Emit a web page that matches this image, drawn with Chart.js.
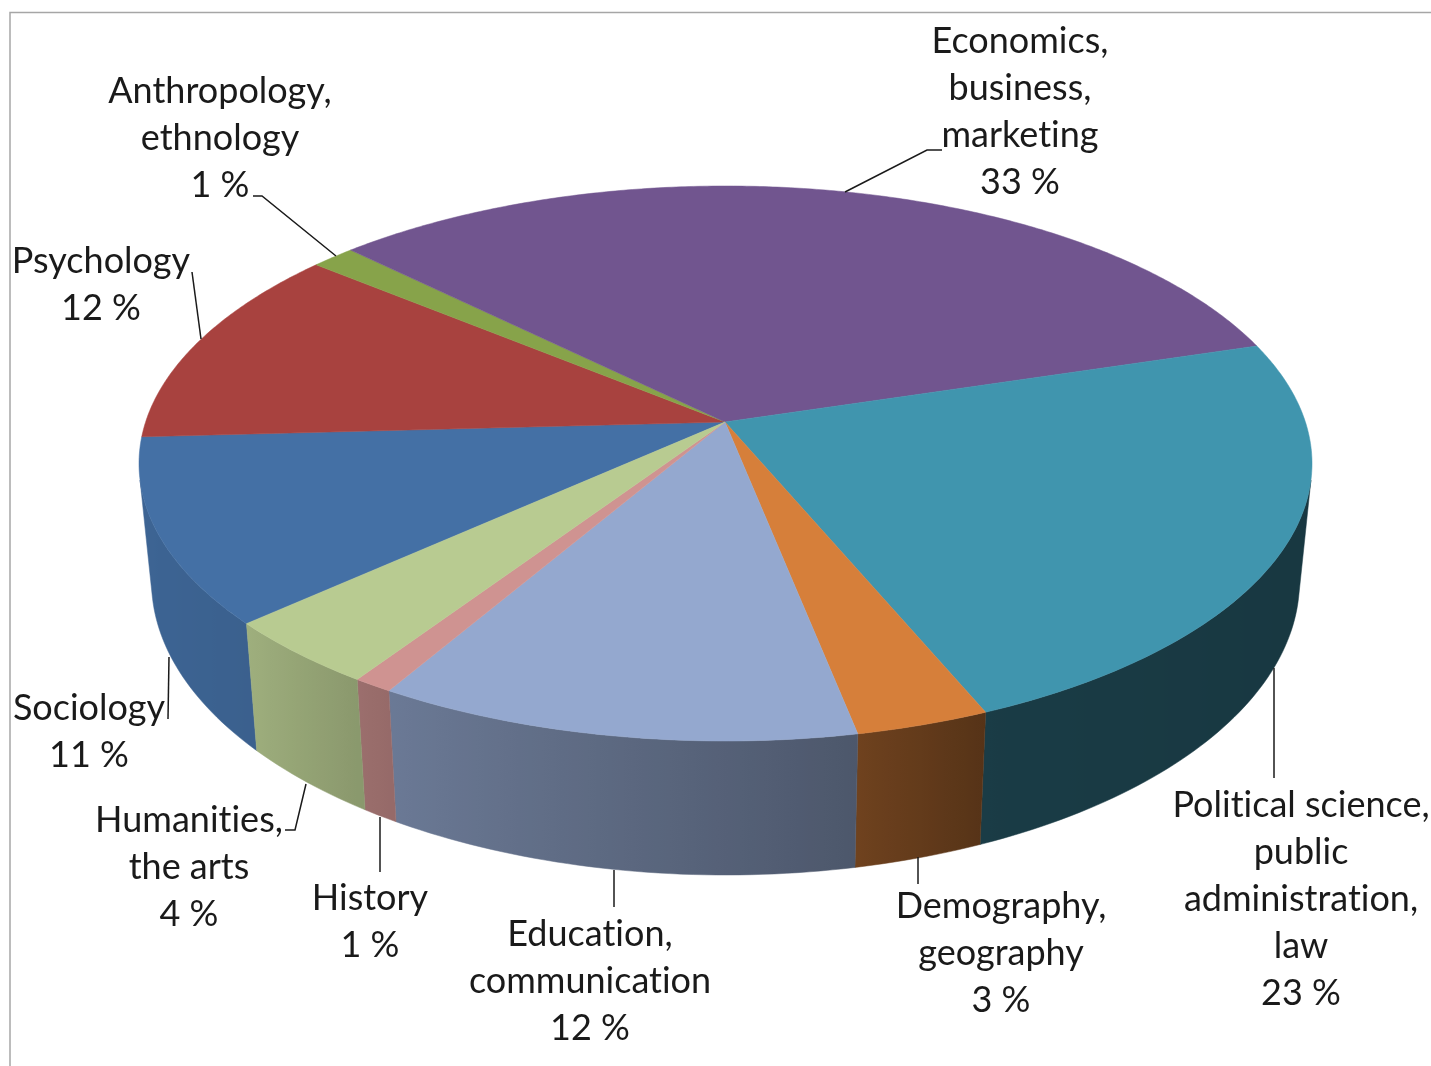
<!DOCTYPE html>
<html>
<head>
<meta charset="utf-8">
<title>Research fields</title>
<script src="https://cdn.jsdelivr.net/npm/chart.js@4"></script>
<style>
  html, body { margin: 0; padding: 0; background: #ffffff; }
  canvas { display: block; }
</style>
</head>
<body>
<canvas id="pie-canvas" width="1431" height="1066"></canvas>
<script>
// values in chart order (the labels show them rounded)
const categories = ["Sociology", "Psychology", "Anthropology, ethnology", "Economics, business, marketing",
  "Political science, public administration, law", "Demography, geography", "Education, communication",
  "History", "Humanities, the arts"];
const shares = [10.8, 11.8, 1.4, 32.95, 23.4, 3.2, 11.55, 0.95, 3.95];
const labelLines = [
  ["Sociology"],
  ["Psychology"],
  ["Anthropology,", "ethnology"],
  ["Economics,", "business,", "marketing"],
  ["Political science,", "public", "administration,", "law"],
  ["Demography,", "geography"],
  ["Education,", "communication"],
  ["History"],
  ["Humanities,", "the arts"],
];
const sliceColors = ["#4470a5", "#a8423f", "#87a34a", "#71558f", "#4095ae", "#d67f3a", "#94a8cf", "#cf9391", "#b8cb91"];

// layout of the labels: centre x, first baseline
const labelPos = [[89, 720], [101, 273], [220, 103], [1020, 53], [1301, 817], [1001, 918], [590, 946], [370, 910], [189, 832]];
const leaders = [
  [[169, 657], [168, 719]],
  [[192, 272], [201, 339]],
  [[253, 196], [262, 196], [336, 256]],
  [[845, 192], [927, 150], [942, 150]],
  [[1274, 668], [1274, 778]],
  [[918, 857], [918, 884]],
  [[614, 870], [614, 907]],
  [[380, 817], [380, 872]],
  [[285, 830], [295, 830], [306, 784]],
];

const topRim = { cx: 725.5, cy: 463.5, a: 586.5, b: 277.5 };
const lowRim = { cx: 725.5, cy: 581, a: 574, b: 294 };
const tilt = -0.15; // where the pie centre lands inside the ellipse (perspective)

function rimPoint(rim, t) {
  const X = Math.cos(t), Y = Math.sin(t);
  const d = 1 + tilt * Y;
  return [rim.cx + rim.a * X * Math.sqrt(1 - tilt * tilt) / d, rim.cy + rim.b * (Y + tilt) / d];
}

// how dark the side wall gets, going round from left to right
function wallShade(t) {
  const x = Math.cos(t);
  const stops = [[-1, 0.9], [-0.74, 0.86], [-0.5, 0.72], [0.19, 0.52], [0.39, 0.40], [1, 0.37]];
  for (let i = 1; i < stops.length; i++) {
    if (x <= stops[i][0]) {
      const f = (x - stops[i - 1][0]) / (stops[i][0] - stops[i - 1][0]);
      return stops[i - 1][1] + f * (stops[i][1] - stops[i - 1][1]);
    }
  }
  return 0.37;
}

function darken(hex, k) {
  const n = parseInt(hex.slice(1), 16);
  return `rgb(${Math.round((n >> 16) * k)}, ${Math.round(((n >> 8) & 255) * k)}, ${Math.round((n & 255) * k)})`;
}

function drawWall(ctx, arc, color) {
  // only the front of the rim shows; the back is hidden by the top face
  const step = Math.PI / 180;
  const angles = [];
  for (let t = arc.startAngle; t < arc.endAngle; t += step) {
    if (Math.sin(t) > 0.2) angles.push(t);
  }
  if (Math.sin(arc.endAngle) > 0.2) angles.push(arc.endAngle);
  if (angles.length < 2) return;

  const up = angles.map((t) => rimPoint(topRim, t));
  const low = angles.map((t) => rimPoint(lowRim, t));
  const xs = up.concat(low).map((q) => q[0]);
  const x0 = Math.min(...xs), x1 = Math.max(...xs);
  const grad = ctx.createLinearGradient(x0, 0, x1, 0);
  const ordered = angles.map((t, i) => [(up[i][0] - x0) / (x1 - x0), t]).sort((a, b) => a[0] - b[0]);
  ordered.forEach((s) => grad.addColorStop(s[0], darken(color, wallShade(s[1]))));

  ctx.fillStyle = ctx.strokeStyle = grad;
  ctx.beginPath();
  up.forEach((q, j) => (j ? ctx.lineTo(q[0], q[1]) : ctx.moveTo(q[0], q[1])));
  low.reverse().forEach((q) => ctx.lineTo(q[0], q[1]));
  ctx.closePath();
  ctx.fill();
  ctx.lineWidth = 0.5;
  ctx.stroke();
}

const perspectivePie = {
  id: "perspectivePie",
  beforeDatasetDraw(chart, args) {
    const ctx = chart.ctx;
    const arcs = chart.getDatasetMeta(args.index).data;
    const step = Math.PI / 360;
    const apex = [725, 422];

    ctx.save();
    arcs.forEach((arc, i) => drawWall(ctx, arc, sliceColors[i]));
    arcs.forEach((arc, i) => {
      ctx.fillStyle = ctx.strokeStyle = sliceColors[i];
      ctx.beginPath();
      ctx.moveTo(apex[0], apex[1]);
      for (let t = arc.startAngle; t < arc.endAngle; t += step) {
        const q = rimPoint(topRim, t);
        ctx.lineTo(q[0], q[1]);
      }
      const e = rimPoint(topRim, arc.endAngle);
      ctx.lineTo(e[0], e[1]);
      ctx.closePath();
      ctx.fill();
      ctx.lineWidth = 0.5;
      ctx.stroke();
    });
    ctx.restore();
    return false;
  },
  afterDraw(chart) {
    const ctx = chart.ctx;
    ctx.save();
    // chart frame, open at the right and the bottom of the picture
    ctx.strokeStyle = "#a6a6a6";
    ctx.lineWidth = 1.5;
    ctx.beginPath();
    ctx.moveTo(10, 1066);
    ctx.lineTo(10, 12.5);
    ctx.lineTo(1431, 12.5);
    ctx.stroke();

    ctx.strokeStyle = "#1a1a1a";
    ctx.lineWidth = 1.5;
    leaders.forEach((line) => {
      ctx.beginPath();
      line.forEach((q, j) => (j ? ctx.lineTo(q[0], q[1]) : ctx.moveTo(q[0], q[1])));
      ctx.stroke();
    });

    ctx.fillStyle = "#1a1a1a";
    ctx.font = '36px Lato';
    ctx.textRendering = "optimizeSpeed"; // keeps Lato from joining "ti" into a ligature
    ctx.textAlign = "center";
    ctx.textBaseline = "alphabetic";
    labelLines.forEach((lines, i) => {
      const rows = lines.concat([Math.round(shares[i]) + " %"]);
      rows.forEach((row, j) => ctx.fillText(row, labelPos[i][0], labelPos[i][1] + j * 47));
    });
    ctx.restore();
  },
};

function pieConfig() {
  return {
    type: "pie",
    data: {
      labels: categories,
      datasets: [{ data: shares, backgroundColor: sliceColors, borderWidth: 0 }],
    },
    options: {
      responsive: false,
      animation: false,
      rotation: 228,
      plugins: {
        legend: { display: false },
        tooltip: { enabled: false },
      },
    },
    plugins: [perspectivePie],
  };
}

const ctx = document.getElementById("pie-canvas").getContext("2d");
window.pieChart = new Chart(ctx, pieConfig());
</script>
</body>
</html>
